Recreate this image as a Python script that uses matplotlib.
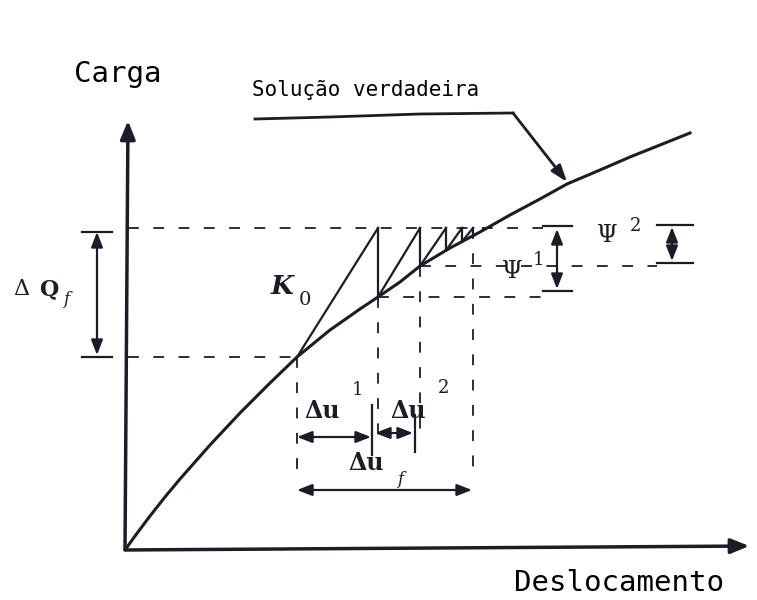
import matplotlib
matplotlib.use("Agg")
import matplotlib.pyplot as plt
import numpy as np

# Schematic drawn in image pixel coordinates (x right, y down)
W, H = 757, 600
ink = "#1c1c28"

# True solution curve
curve_x = [125, 135, 150, 165, 180, 210, 240, 270, 297, 330, 360, 378, 400, 420, 450, 480, 510, 540, 567, 600, 630, 660, 690]
curve_y = [550, 536, 516, 497, 479, 445, 413, 383, 357, 330, 309, 297, 282, 266, 248, 232, 215, 199, 184, 170, 157, 145, 133]

# Newton-Raphson iterations: start point on curve, top at load level
step_x0 = [297, 378, 420, 446, 462]
step_x1 = [378, 420, 446, 462, 473]
load_top = 228

# dashed guides (x0, y0, x1, y1)
dashed = [
    (128, 228, 543, 228),
    (128, 357, 297, 357),
    (378, 297, 543, 297),
    (420, 266, 657, 266),
    (297, 357, 297, 474),
    (378, 297, 378, 442),
    (420, 266, 420, 430),
    (473, 228, 473, 474),
]

fig = plt.figure(figsize=(W / 100, H / 100), dpi=100)
ax = fig.add_axes([0, 0, 1, 1])
ax.set_xlim(0, W)
ax.set_ylim(H, 0)
ax.axis("off")

# axes arrows
ax.annotate("", xy=(128, 118), xytext=(125, 552),
            arrowprops=dict(arrowstyle="-|>,head_width=0.45,head_length=1.1", color=ink, lw=2.5))
ax.annotate("", xy=(752, 546), xytext=(123, 550),
            arrowprops=dict(arrowstyle="-|>,head_width=0.45,head_length=1.1", color=ink, lw=2.5))

ax.plot(curve_x, curve_y, color=ink, lw=2.2)

for x0, x1 in zip(step_x0, step_x1):
    y0 = np.interp(x0, curve_x, curve_y)
    y1 = np.interp(x1, curve_x, curve_y)
    ax.plot([x0, x1], [y0, load_top], color=ink, lw=1.6)
    ax.plot([x1, x1], [load_top, y1], color=ink, lw=1.6)

for x0, y0, x1, y1 in dashed:
    ax.plot([x0, x1], [y0, y1], color=ink, lw=1.3, ls=(0, (6, 8)))


def dim_arrow(p0, p1, lw=1.6):
    ax.annotate("", xy=p1, xytext=p0,
                arrowprops=dict(arrowstyle="<|-|>,head_width=0.35,head_length=0.9", color=ink, lw=lw,
                                shrinkA=0, shrinkB=0))


serif = "DejaVu Serif"

# Delta Q_f
dim_arrow((97, 232), (97, 355))
ax.plot([82, 112], [232, 232], color=ink, lw=1.6)
ax.plot([82, 112], [357, 357], color=ink, lw=1.6)
ax.text(13, 289, "Δ", fontsize=16, color=ink, va="center", family=serif)
ax.text(39, 289, "Q", fontsize=16, color=ink, va="center", family=serif, weight="bold")
ax.text(63, 300, "f", fontsize=12, color=ink, va="center", family=serif, style="italic")

# psi 1
dim_arrow((557, 229), (557, 289))
ax.plot([543, 572], [226, 226], color=ink, lw=1.6)
ax.plot([543, 572], [291, 291], color=ink, lw=1.6)
ax.text(502, 271, "Ψ", fontsize=17, color=ink, va="center", family=serif)
ax.text(533, 260, "1", fontsize=13, color=ink, va="center", family=serif)

# psi 2
dim_arrow((672, 227), (672, 261))
ax.plot([657, 693], [225, 225], color=ink, lw=1.6)
ax.plot([657, 693], [263, 263], color=ink, lw=1.6)
ax.text(597, 236, "Ψ", fontsize=17, color=ink, va="center", family=serif)
ax.text(630, 226, "2", fontsize=13, color=ink, va="center", family=serif)

# Delta u
dim_arrow((297, 437), (371, 437))
dim_arrow((375, 433), (413, 433))
ax.plot([372, 372], [405, 455], color=ink, lw=1.6)
ax.plot([415, 415], [415, 452], color=ink, lw=1.6)
ax.text(304, 411, "Δu", fontsize=17, color=ink, va="center", family=serif, weight="bold")
ax.text(352, 390, "1", fontsize=13, color=ink, va="center", family=serif)
ax.text(390, 411, "Δu", fontsize=17, color=ink, va="center", family=serif, weight="bold")
ax.text(438, 388, "2", fontsize=13, color=ink, va="center", family=serif)
dim_arrow((297, 490), (472, 490))
ax.text(348, 463, "Δu", fontsize=17, color=ink, va="center", family=serif, weight="bold")
ax.text(397, 480, "f", fontsize=12, color=ink, va="center", family=serif, style="italic")

# K0
ax.text(271, 287, "K", fontsize=19, color=ink, va="center", family=serif, weight="bold", style="italic")
ax.text(299, 300, "0", fontsize=14, color=ink, va="center", family=serif)

# labels
mono = "DejaVu Sans Mono"
ax.text(74, 74, "Carga", fontsize=21, color="black", va="center", family=mono)
ax.text(514, 583, "Deslocamento", fontsize=21, color="black", va="center", family=mono)
ax.text(252, 90, "Solução verdadeira", fontsize=15, color="black", va="center", family=mono)
ax.plot([255, 330, 420, 513], [119, 117, 114, 113], color=ink, lw=2)
ax.annotate("", xy=(567, 182), xytext=(513, 113),
            arrowprops=dict(arrowstyle="-|>,head_width=0.35,head_length=1.0", color=ink, lw=2,
                            shrinkA=0, shrinkB=0))

fig.savefig("out.png", dpi=100, facecolor="white")
